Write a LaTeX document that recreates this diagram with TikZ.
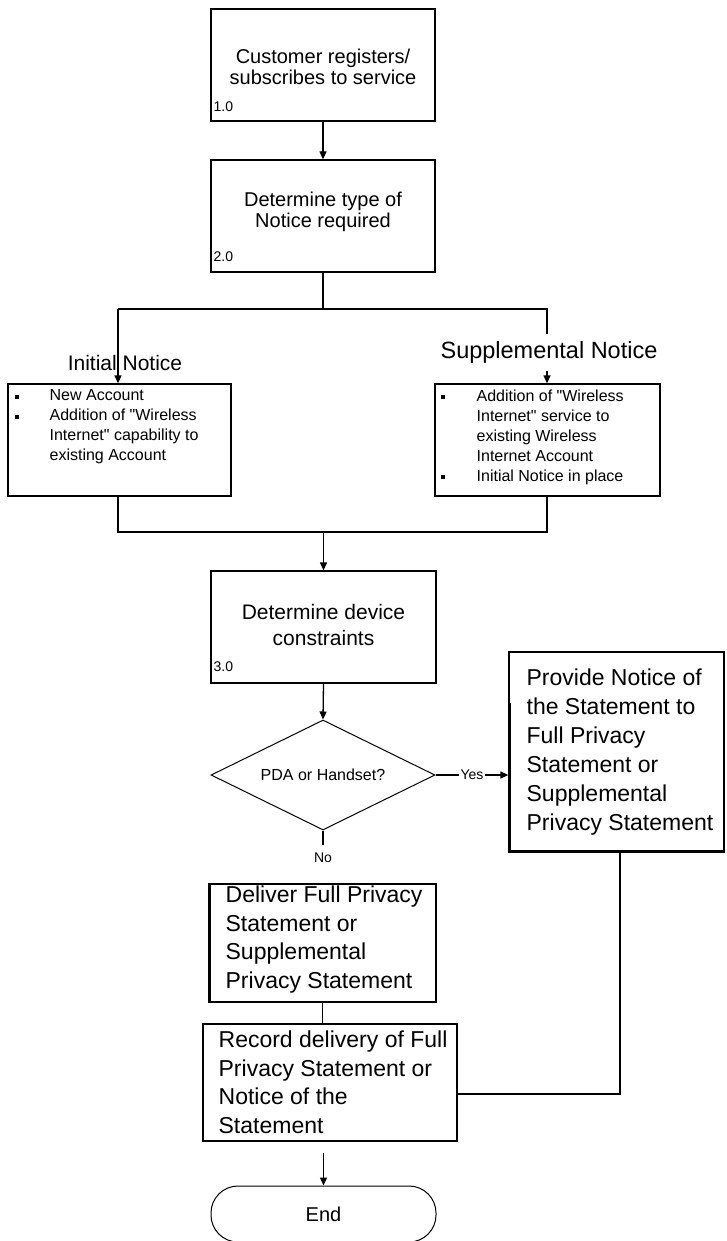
\documentclass[tikz,border=0pt]{standalone}
\usepackage{fontspec}
\setmainfont{Liberation Sans}
\usetikzlibrary{arrows.meta,shapes.geometric,calc}
\begin{document}
\begin{tikzpicture}[x={(1pt,0pt)},y={(0pt,-1pt)},
  line width=1.3pt,
  box/.style={draw, rectangle, inner sep=0pt, line width=1.3pt},
  txt/.style={inner sep=0pt, align=center},
  ltxt/.style={inner sep=0pt, align=left, anchor=west},
  num/.style={inner sep=0pt, anchor=west, font=\fontsize{14}{14}\selectfont},
  arr/.style={-{Triangle[length=8pt,width=7pt]}},
  bul/.style={fill=black, inner sep=0pt, minimum size=4pt},
  fA/.style={font=\fontsize{20}{21}\selectfont},
  fB/.style={font=\fontsize{16}{20}\selectfont},
  fC/.style={font=\fontsize{23}{28.5}\selectfont},
  thick border/.style={line width=2.4pt}
]
\useasboundingbox (0,0) rectangle (726,1241);
\clip (0,0) rectangle (726,1241);
\fill[white] (0,0) rectangle (726,1241);

% boxes
\node[box, minimum width=224pt, minimum height=112pt] (b1) at (323,65) {};
\node[box, minimum width=224pt, minimum height=112pt] (b2) at (323,216) {};
\node[box, minimum width=223pt, minimum height=112pt] (L) at (119.5,440) {};
\node[box, minimum width=225pt, minimum height=112pt] (R) at (547.5,440) {};
\node[box, minimum width=225pt, minimum height=112pt] (b3) at (323.5,627) {};
\node[draw, diamond, aspect=2, inner sep=0pt, line width=1pt,
      minimum width=224pt, minimum height=110pt,
      font=\fontsize{16}{16}\selectfont] (d) at (323,775) {PDA or Handset?};
\node[box, minimum width=215pt, minimum height=200pt] (P) at (616.5,752) {};
\node[box, minimum width=227pt, minimum height=118pt] (D) at (322.5,943) {};
\node[box, minimum width=254pt, minimum height=117pt] (Rec) at (330,1082.5) {};
\node[draw, rectangle, rounded corners=27pt, line width=1pt, inner sep=0pt,
      minimum width=225pt, minimum height=56pt,
      font=\fontsize{20}{20}\selectfont] (End) at (323.5,1214) {End};

% thick borders
\draw[thick border] ($(P.south west)+(1,-150)$) -- ($(P.south west)+(1,-1)$) -- ($(P.south east)+(0,-1)$);
\draw[thick border] ($(D.north west)+(1,0)$) -- ($(D.south west)+(1,0)$);

% texts
\node[txt, fA] (t1) at (323,67) {Customer registers/\\subscribes to service};
\node[num] (n1) at (213,107) {1.0};
\node[txt, fA] (t2) at (323,212) {Determine type of\\Notice required};
\node[num] (n2) at (213,257) {2.0};
\node[txt, font=\fontsize{21}{21}\selectfont] (init) at (125,363) {Initial Notice};
\node[txt, font=\fontsize{23.5}{23.5}\selectfont] (sup) at (549,352) {Supplemental Notice};

\node[ltxt, fB] (tL) at (49,427) {New Account\\Addition of \textquotedbl Wireless\\Internet\textquotedbl\ capability to\\existing Account};
\node[bul] (bL1) at (17,397) {};
\node[bul] (bL2) at (17,417) {};
\node[ltxt, fB] (tR) at (476,437) {Addition of \textquotedbl Wireless\\Internet\textquotedbl\ service to\\existing Wireless\\Internet Account\\Initial Notice in place};
\node[bul] (bR1) at (443,397) {};
\node[bul] (bR2) at (443,477) {};

\node[txt, font=\fontsize{21}{26}\selectfont] (t3) at (323.5,625) {Determine device\\constraints};
\node[num] (n3) at (213,667) {3.0};

\node[ltxt, font=\fontsize{23}{29}\selectfont] (tP) at (526,752.5) {Provide Notice of\\the Statement to\\Full Privacy\\Statement or\\Supplemental\\Privacy Statement};
\node[ltxt, fC] (tD) at (225,939.5) {Deliver Full Privacy\\Statement or\\Supplemental\\Privacy Statement};
\node[ltxt, fC] (tRec) at (218,1082.5) {Record delivery of Full\\Privacy Statement or\\Notice of the\\Statement};

% connector coordinates
\coordinate (sL) at (118,309);
\coordinate (sR) at (547,309);
\coordinate (rA) at (547,334);
\coordinate (rB) at (547,371);
\coordinate (mL) at (118,532);
\coordinate (mR) at (547,532);
\coordinate (noEnd) at (323,845);
\coordinate (corner) at (620,1094);
\coordinate (eStart) at (323.5,1153);

% connectors
\draw[arr] (b1.south) -- (b2.north);
\draw (b2.south) -- (b2.south |- sL);
\draw (sL) -- (sR) -- (rA);
\draw[arr] (sL) -- (L.north -| sL);
\draw[arr] (rB) -- (R.north -| rB);
\draw (L.south -| mL) -- (mL) -- (mR) -- (R.south -| mR);
\draw[arr] (mL -| b3.north) -- (b3.north);
\draw[arr] (b3.south) -- (d.north);
\draw[arr] (d.east) -- node[fill=white, inner xsep=1.5pt, inner ysep=0pt, font=\fontsize{14}{14}\selectfont] (yes) {Yes} (P.west |- d.east);
\draw (d.south) -- (noEnd);
\node[txt, font=\fontsize{14}{14}\selectfont] (no) at (323,858) {No};
\draw (D.south) -- (Rec.north -| D.south);
\draw (Rec.east |- corner) -- (corner) -- (P.south -| corner);
\draw[arr] (eStart) -- (End.north);
\end{tikzpicture}
\end{document}
